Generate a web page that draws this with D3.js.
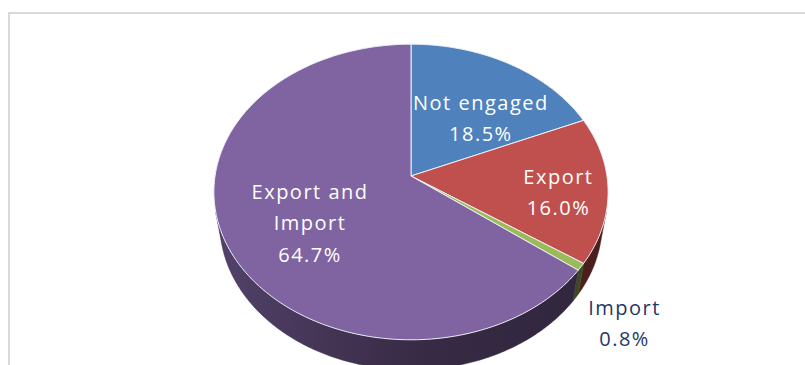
<!DOCTYPE html>
<html>
<head>
<meta charset="utf-8">
<script src="https://cdn.jsdelivr.net/npm/d3@7"></script>
<style>
  html, body { margin: 0; padding: 0; background: #ffffff; }
  svg { display: block; }
  .lbl { font-family: "Open Sans", "DejaVu Sans", sans-serif; font-size: 20px; font-weight: 500; letter-spacing: 1.5px; }
</style>
</head>
<body>
<svg id="chart" width="805" height="365"></svg>
<script>
// Trade engagement shares (per cent), drawn clockwise from 12 o'clock
const categories = ["Not engaged", "Export", "Import", "Export and Import"];
const shares = [18.5, 16.0, 0.8, 64.7];
const labelLines = [["Not engaged"], ["Export"], ["Import"], ["Export and", "Import"]];
const colors = ["#4f81bd", "#c0504d", "#9bbb59", "#8064a2"];

const W = 805, H = 365;
const svg = d3.select("#chart");

// Chart frame (light grey border, running off the right and bottom edges)
svg.append("rect")
  .attr("x", 9).attr("y", 13)
  .attr("width", 820).attr("height", 400)
  .attr("fill", "#ffffff")
  .attr("stroke", "#d9d9d9").attr("stroke-width", 2);

// Perspective view of a tilted disk: unit radius, camera distance D, elevation phi
const cx = 411, cy = 176;
const D = 6.16, phi = 48.2 * Math.PI / 180;
const sinP = Math.sin(phi), cosP = Math.cos(phi);
const F = 1207;           // focal scale in pixels
const thick = 0.25;       // slab thickness in disk radii

function project(theta, r, y) {
  const X = r * Math.sin(theta), Z = r * Math.cos(theta);
  const depth = D + Z * cosP - y * sinP;
  return [cx + F * X / depth, cy - F * (Z * sinP + y * cosP) / depth];
}

function sampleAngles(a, b) {
  const n = Math.max(2, Math.ceil((b - a) / 0.01));
  return d3.range(n + 1).map(i => a + (b - a) * i / n);
}

const pie = d3.pie().sort(null).value(d => d);
const arcs = pie(shares);
const line = d3.line().curve(d3.curveLinearClosed);

function shade(hex, k) {
  const c = d3.rgb(hex);
  return d3.rgb(c.r * k, c.g * k, c.b * k).formatHex();
}

// Side-wall gradients: lighter towards the left, darker to the right
const defs = svg.append("defs");
const x0 = cx - 200, x1 = cx + 200;
colors.forEach((col, i) => {
  const g = defs.append("linearGradient")
    .attr("id", "wall" + i)
    .attr("gradientUnits", "userSpaceOnUse")
    .attr("x1", x0).attr("y1", 0).attr("x2", x1).attr("y2", 0);
  [[0, 0.66], [0.3, 0.52], [0.55, 0.42], [1, 0.38]].forEach(([o, k]) => {
    g.append("stop").attr("offset", o).attr("stop-color", shade(col, k));
  });
});

// Outer wall is visible where it faces the camera
const thetaV = Math.acos(-1 / (D * cosP));
const wallLo = thetaV, wallHi = 2 * Math.PI - thetaV;

const walls = svg.append("g");
arcs.forEach((d, i) => {
  const a = Math.max(d.startAngle, wallLo), b = Math.min(d.endAngle, wallHi);
  if (a >= b) return;
  const ts = sampleAngles(a, b);
  const pts = ts.map(t => project(t, 1, 0))
    .concat(ts.slice().reverse().map(t => project(t, 1, -thick)));
  walls.append("path")
    .attr("d", line(pts))
    .attr("fill", `url(#wall${i})`)
    .attr("stroke", shade(colors[i], 0.45))
    .attr("stroke-width", 0.5);
});

// Top faces
const tops = svg.append("g");
arcs.forEach((d, i) => {
  const pts = [project(0, 0, 0)].concat(
    sampleAngles(d.startAngle, d.endAngle).map(t => project(t, 1, 0)));
  tops.append("path")
    .attr("d", line(pts))
    .attr("fill", colors[i])
    .attr("stroke", "#eef0f6")
    .attr("stroke-width", 1)
    .attr("stroke-linejoin", "round");
});

// Data labels: radial fraction along the slice mid-angle plus a small nudge
const labelLayout = [
  { k: 0.69, dx: 0,    dy: 22, fill: "#ffffff" },
  { k: 0.75, dx: 0,    dy: 6,  fill: "#ffffff" },
  { k: 1.25, dx: -2.5, dy: 32, fill: "#1f3864" },
  { k: 0.56, dx: 0,    dy: 10, fill: "#ffffff" }
];
const fmt = d => d3.format(".1f")(d) + "%";
const lineGap = 31.4;

arcs.forEach((d, i) => {
  const mid = (d.startAngle + d.endAngle) / 2;
  const L = labelLayout[i];
  const p = project(mid, L.k, 0);
  const lines = labelLines[i].concat([fmt(shares[i])]);
  const baseMean = p[1] + L.dy + 7;
  const first = baseMean - lineGap * (lines.length - 1) / 2;
  const t = svg.append("text")
    .attr("class", "lbl")
    .attr("text-anchor", "middle")
    .attr("fill", L.fill);
  lines.forEach((s, j) => {
    t.append("tspan")
      .attr("x", p[0] + L.dx)
      .attr("y", first + j * lineGap)
      .text(s);
  });
});
</script>
</body>
</html>
